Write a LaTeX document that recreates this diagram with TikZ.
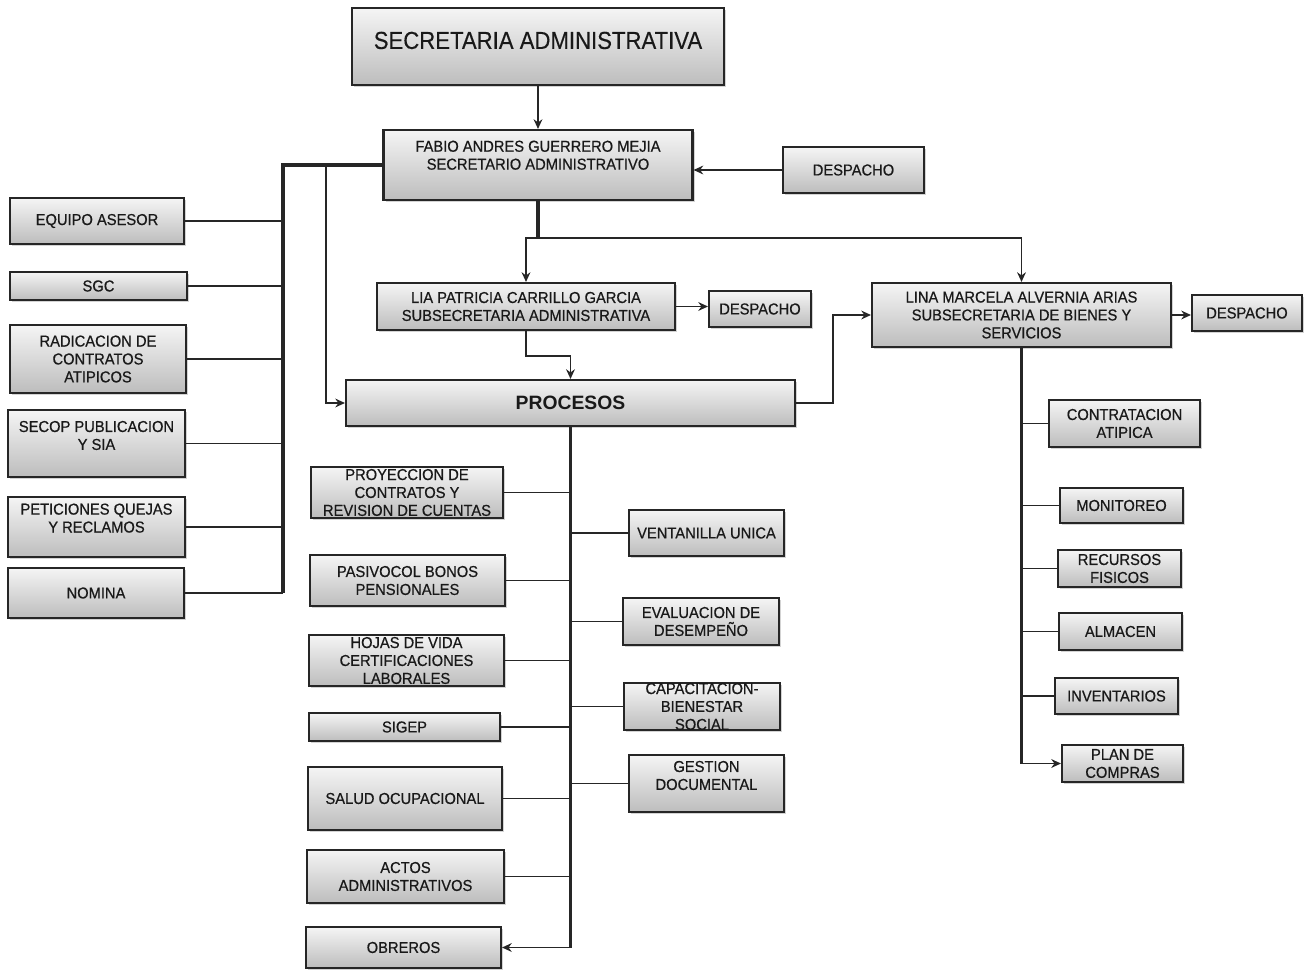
\documentclass[tikz,border=0pt]{standalone}
\usepackage{fontspec}
\setmainfont{Liberation Sans}
\newfontfamily\boxfont[FakeStretch=0.93, FakeBold=0.6]{Liberation Sans}
\newfontfamily\titlefont[FakeStretch=0.9, FakeBold=0.3]{Liberation Sans}
\usetikzlibrary{arrows.meta}
\usetikzlibrary{shadows}

\tikzset{
  caja/.style 2 args={draw=black!85, line width=1.2pt, top color=gray!8, bottom color=gray!52,
    drop shadow={shadow xshift=1.3pt, shadow yshift=-1.3pt, opacity=0.35},
    minimum width=#1*0.02cm, minimum height=#2*0.02cm, inner sep=0pt, align=center,
    text=black!90, font=\boxfont\fontsize{9}{10.2}\selectfont},
  linea/.style={draw=black!85, line width=1.1pt},
  bus/.style={draw=black!85, line width=1.8pt},
}

\begin{document}
\begin{tikzpicture}[x=0.02cm, y=-0.02cm, >={Stealth[length=5.5pt,width=5pt]}]
\useasboundingbox (0,0) rectangle (1309,973);
%\draw[help lines] (0,0) rectangle (1309,973);
\begin{scope}
    \node[caja={372}{77}, font=\titlefont\fontsize{14}{16}\selectfont] (sec) at (538,46.5) {SECRETARIA ADMINISTRATIVA\\[-9pt]};
    \node[caja={309}{70}] (fab) at (538,165) {FABIO ANDRES GUERRERO MEJIA\\SECRETARIO ADMINISTRATIVO\\[1pt]};
    \node[caja={141}{46}] (desp1) at (853.5,170) {DESPACHO};
    \node[caja={298}{47}] (lia) at (526,306.5) {LIA PATRICIA CARRILLO GARCIA\\SUBSECRETARIA ADMINISTRATIVA};
    \node[caja={102}{36}] (desp2) at (760,309) {DESPACHO};
    \node[caja={299}{64}] (lina) at (1021.5,315) {LINA MARCELA ALVERNIA ARIAS\\SUBSECRETARIA DE BIENES Y\\SERVICIOS};
    \node[caja={110}{36}] (desp3) at (1247,313) {DESPACHO};
    \node[caja={449}{46}, font=\bfseries\fontsize{11}{13}\selectfont] (proc) at (570.5,403) {PROCESOS};

    \node[caja={174}{46}] (eq) at (97,221) {EQUIPO ASESOR};
    \node[caja={177}{28}] (sgc) at (98.5,286) {SGC};
    \node[caja={176}{68}] (rad) at (98,359) {RADICACION DE\\CONTRATOS\\ATIPICOS};
    \node[caja={177}{67}] (secop) at (96.5,443.5) {SECOP PUBLICACION\\Y SIA\\[-1pt]};
    \node[caja={177}{60}] (pet) at (96.5,527) {PETICIONES QUEJAS\\Y RECLAMOS\\[0pt]};
    \node[caja={176}{50}] (nom) at (96,593) {NOMINA};

    \node[caja={192}{51}] (proy) at (407,492.5) {PROYECCION DE\\CONTRATOS Y\\REVISION DE CUENTAS};
    \node[caja={195}{51}] (pas) at (407.5,580.5) {PASIVOCOL BONOS\\PENSIONALES};
    \node[caja={195}{51}] (hoj) at (406.5,660.5) {HOJAS DE VIDA\\CERTIFICACIONES\\LABORALES};
    \node[caja={191}{28}] (sig) at (404.5,727) {SIGEP};
    \node[caja={194}{63}] (sal) at (405,798.5) {SALUD OCUPACIONAL};
    \node[caja={197}{53}] (act) at (405.5,876.5) {ACTOS\\ADMINISTRATIVOS};
    \node[caja={195}{41}] (obr) at (403.5,947.5) {OBREROS};

    \node[caja={155}{46}] (ven) at (706.5,533) {VENTANILLA UNICA};
    \node[caja={156}{47}] (eva) at (701,621.5) {EVALUACION DE\\DESEMPEÑO};
    \node[caja={156}{47}] (cap) at (702,706.5) {CAPACITACION-\\BIENESTAR\\SOCIAL};
    \node[caja={155}{57}] (ges) at (706.5,783.5) {GESTION\\DOCUMENTAL\\[-1pt]};

    \node[caja={151}{47}] (con) at (1124.5,423.5) {CONTRATACION\\ATIPICA};
    \node[caja={123}{35}] (mon) at (1121.5,505.5) {MONITOREO};
    \node[caja={123}{37}] (rec) at (1119.5,568.5) {RECURSOS\\FISICOS};
    \node[caja={123}{37}] (alm) at (1120.5,631.5) {ALMACEN};
    \node[caja={123}{36}] (inv) at (1116.5,696) {INVENTARIOS};
    \node[caja={121}{37}] (pla) at (1122.5,763.5) {PLAN DE\\COMPRAS};

    \coordinate (lbus) at (283,0);
    \coordinate (pbus) at (326,0);
    \coordinate (jn) at (538,238);
\end{scope}

\begin{scope}[every edge/.style={linea}]
    % secretaria y despachos
    \draw[linea,->] (sec.south) -- (fab.north);
    \draw[linea,->] (desp1.west) -- (desp1.west -| fab.east);
    \draw[bus] (fab.south) -- (jn);
    \draw[linea,->] (jn) -| (lia.north);
    \draw[linea,->] (jn) -| (lina.north);
    \draw[linea,->] (lia.east) -- (lia.east -| desp2.west);
    \draw[linea,->] (lina.east) -- (lina.east -| desp3.west);
    \draw[linea,->] (lia.south) -- ++(0,25) -| (proc.north);
    \draw[linea,->] (proc.east) -- ++(37,0) |- (lina.west);

    % equipo de apoyo
    \draw[bus] (fab.west) -- (fab.west -| lbus) -- (nom.east -| lbus);
    \draw[linea,->] (fab.west -| pbus) |- (proc.west);
    \path (eq.east) edge (eq.east -| lbus);
    \path (sgc.east) edge (sgc.east -| lbus);
    \path (rad.east) edge (rad.east -| lbus);
    \path (secop.east) edge (secop.east -| lbus);
    \path (pet.east) edge (pet.east -| lbus);
    \path (nom.east) edge (nom.east -| lbus);

    % procesos
    \draw[bus] (proc.south) -- (proc.south |- obr.east);
    \draw[linea,->] (proc.south |- obr.east) -- (obr.east);
    \path (proy.east) edge (proy.east -| proc.south);
    \path (pas.east) edge (pas.east -| proc.south);
    \path (hoj.east) edge (hoj.east -| proc.south);
    \path (sig.east) edge (sig.east -| proc.south);
    \path (sal.east) edge (sal.east -| proc.south);
    \path (act.east) edge (act.east -| proc.south);
    \path (ven.west) edge (ven.west -| proc.south);
    \path (eva.west) edge (eva.west -| proc.south);
    \path (cap.west) edge (cap.west -| proc.south);
    \path (ges.west) edge (ges.west -| proc.south);

    % bienes y servicios
    \draw[bus] (lina.south) -- (lina.south |- pla.west);
    \draw[linea,->] (lina.south |- pla.west) -- (pla.west);
    \path (con.west) edge (con.west -| lina.south);
    \path (mon.west) edge (mon.west -| lina.south);
    \path (rec.west) edge (rec.west -| lina.south);
    \path (alm.west) edge (alm.west -| lina.south);
    \path (inv.west) edge (inv.west -| lina.south);
\end{scope}
\end{tikzpicture}
\end{document}
